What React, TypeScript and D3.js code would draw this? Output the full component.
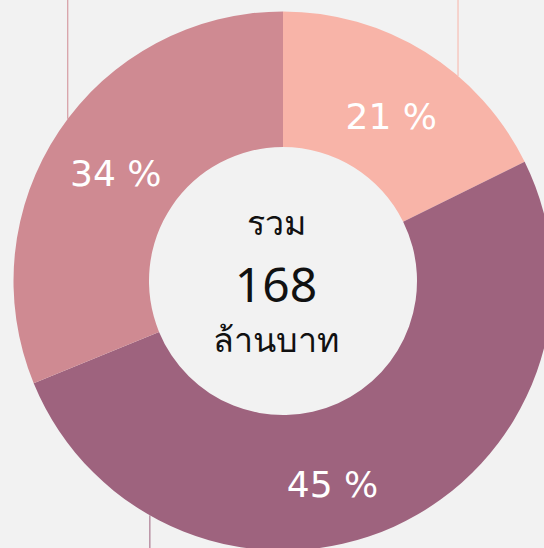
import React from "react";
import * as d3 from "d3";

const categories = ["A", "B", "C"];
const shares = [17.7, 51.1, 31.2];
const labels = ["21 %", "45 %", "34 %"];
const colors = ["#f8b4a8", "#9e637e", "#cf8a92"];
const leaderAngles = [40.5, 209.6, 307];
const centerLines = ["รวม", "168", "ล้านบาท"];

const W = 544;
const H = 548;
const cx = 283;
const cy = 281;
const rOuter = 269.5;
const rInner = 134;
const labelShiftDeg = [1.5, 10.6, -1];
const labelRadius = [197, 209, 199];

export default function App() {
  const pie = d3.pie<number>().sort(null).value((d) => d);
  const arcs = pie(shares);
  const arc = d3.arc<d3.PieArcDatum<number>>().innerRadius(rInner).outerRadius(rOuter);

  return (
    <svg width={W} height={H} style={{ position: "fixed", left: 0, top: 0, display: "block" }}>
      <rect width={W} height={H} fill="#f2f2f2" />
      <g transform={`translate(${cx},${cy})`}>
        {arcs.map((a, i) => {
          const ang = (leaderAngles[i] * Math.PI) / 180;
          const x = rOuter * Math.sin(ang);
          const y = -rOuter * Math.cos(ang);
          const yEnd = y < 0 ? -cy : H - cy;
          return (
            <line key={"l" + i} x1={x} y1={y} x2={x} y2={yEnd} stroke={colors[i]} strokeWidth={1} />
          );
        })}
        {arcs.map((a, i) => (
          <path key={categories[i]} d={arc(a) || ""} fill={colors[i]} />
        ))}
        {arcs.map((a, i) => {
          const shift = (labelShiftDeg[i] * Math.PI) / 180;
          const la = d3
            .arc<d3.PieArcDatum<number>>()
            .innerRadius(labelRadius[i])
            .outerRadius(labelRadius[i]);
          const [x, y] = la.centroid({ ...a, startAngle: a.startAngle + shift, endAngle: a.endAngle + shift });
          return (
            <text
              key={"t" + i}
              x={x}
              y={y}
              textAnchor="middle"
              dominantBaseline="central"
              fill="#ffffff"
              fontFamily="DejaVu Sans, sans-serif"
              fontSize={36}
            >
              {labels[i]}
            </text>
          );
        })}
        <g transform="translate(-7,0)">
          <text x={0} y={-46} textAnchor="middle" fill="#111" fontFamily="Noto Sans, sans-serif" fontSize={34}>
            {centerLines[0]}
          </text>
          <text x={0} y={21} textAnchor="middle" fill="#111" fontFamily="Noto Sans, sans-serif" fontSize={48}>
            {centerLines[1]}
          </text>
          <text x={0} y={71} textAnchor="middle" fill="#111" fontFamily="Noto Sans, sans-serif" fontSize={34}>
            {centerLines[2]}
          </text>
        </g>
      </g>
    </svg>
  );
}
